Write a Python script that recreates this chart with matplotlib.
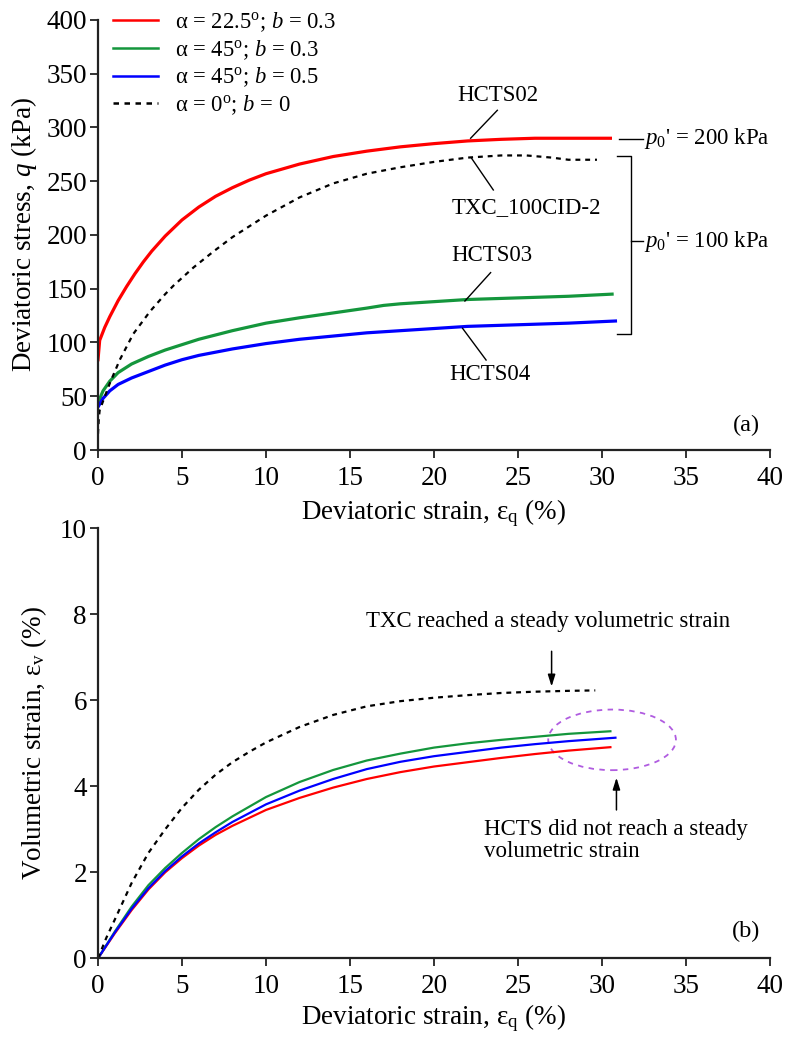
import matplotlib
matplotlib.use("Agg")
import matplotlib.pyplot as plt
from matplotlib.patches import Ellipse
import numpy as np

plt.rcParams['font.family'] = ['Liberation Serif', 'DejaVu Serif']
plt.rcParams['mathtext.fontset'] = 'custom'
plt.rcParams['mathtext.rm'] = 'Liberation Serif'
plt.rcParams['mathtext.it'] = 'Liberation Serif:italic'
plt.rcParams['mathtext.bf'] = 'Liberation Serif:bold'

# ---------------- data: panel (a) deviatoric stress q (kPa) vs strain (%) ----------------
red_q_x = [0, 0.1, 0.4, 0.7, 1.2, 1.7, 2.2, 2.7, 3.2, 4, 5, 6, 7, 8, 9, 10, 12, 14, 16, 18, 20, 22, 24, 26, 28, 30.5]
red_q_y = [84, 102, 114, 124, 139, 152, 164, 175, 185, 199, 214, 226, 236, 244, 251, 257, 266, 273, 278, 282, 285, 287.5, 289, 290, 290, 290]

green_q_x = [0, 0.3, 0.7, 1.2, 2, 3, 4, 5, 6, 7, 8, 10, 12, 14, 16, 17, 18, 20, 22, 25, 28, 30.6]
green_q_y = [44, 55, 64, 72, 80, 87, 93, 98, 103, 107, 111, 118, 123, 127.5, 132, 134.5, 136, 138, 140, 141.5, 143, 145]

blue_q_x = [0, 0.3, 0.7, 1.2, 2, 3, 4, 5, 6, 7, 8, 10, 12, 14, 16, 18, 20, 22, 25, 28, 30.8]
blue_q_y = [40, 48, 55, 61, 67, 73, 79, 84, 88, 91, 94, 99, 103, 106, 109, 111, 113, 115, 116.5, 118, 120]

txc_q_x = [0, 0.05, 0.1, 0.7, 1.3, 2.1, 3.1, 4.0, 4.5, 5.7, 6.9, 8, 10, 12, 14, 16, 18, 20, 22, 24, 25.5, 27, 28, 29.7]
txc_q_y = [15, 30, 37, 62, 84, 108, 129, 145, 153, 170, 185, 198, 218, 235, 248, 257, 263, 268, 272, 274, 274, 272, 270, 270]

# ---------------- data: panel (b) volumetric strain (%) vs strain (%) ----------------
red_v_x = [0, 1, 2, 3, 4, 5, 6, 7, 8, 10, 12, 14, 16, 18, 20, 22, 24, 26, 28, 30.5]
red_v_y = [0, 0.58, 1.12, 1.6, 2.0, 2.33, 2.62, 2.87, 3.08, 3.45, 3.73, 3.97, 4.17, 4.33, 4.46, 4.56, 4.66, 4.75, 4.83, 4.91]

green_v_x = [0, 1, 2, 3, 4, 5, 6, 7, 8, 10, 12, 14, 16, 18, 20, 22, 24, 26, 28, 30.5]
green_v_y = [0, 0.62, 1.2, 1.7, 2.1, 2.45, 2.77, 3.05, 3.3, 3.75, 4.1, 4.38, 4.6, 4.76, 4.9, 5.0, 5.08, 5.15, 5.22, 5.28]

blue_v_x = [0, 1, 2, 3, 4, 5, 6, 7, 8, 10, 12, 14, 16, 18, 20, 22, 24, 26, 28, 30.8]
blue_v_y = [0, 0.6, 1.15, 1.63, 2.03, 2.37, 2.67, 2.93, 3.17, 3.58, 3.9, 4.17, 4.4, 4.57, 4.7, 4.8, 4.9, 4.98, 5.05, 5.13]

txc_v_x = [0, 0.5, 1, 2, 3, 4, 5, 6, 7, 8, 9, 10, 12, 14, 16, 18, 20, 22, 24, 26, 28, 29.6]
txc_v_y = [0, 0.48, 0.9, 1.75, 2.45, 3.0, 3.5, 3.92, 4.27, 4.56, 4.8, 5.02, 5.38, 5.66, 5.86, 5.98, 6.06, 6.12, 6.17, 6.2, 6.22, 6.23]

legend_labels = ['α = 22.5$^{\\mathrm{o}}$; $b$ = 0.3',
                 'α = 45$^{\\mathrm{o}}$; $b$ = 0.3',
                 'α = 45$^{\\mathrm{o}}$; $b$ = 0.5',
                 'α = 0$^{\\mathrm{o}}$; $b$ = 0']

RED, GREEN, BLUE, PURPLE = '#ff0000', '#14963c', '#0000ff', '#b05ce0'
DASH = (0, (2.2, 2.2))
TICK_FS = 19.5
LABEL_FS = 19.5
ANN_FS = 16.5

fig = plt.figure(figsize=(7.88, 10.39), dpi=100)
ax1 = fig.add_axes([98/788, 1-450/1039, 672/788, 430/1039])
ax2 = fig.add_axes([98/788, 1-958.3/1039, 672/788, 430/1039])

for ax in (ax1, ax2):
    for s in ('top', 'right'):
        ax.spines[s].set_visible(False)
    for s in ('left', 'bottom'):
        ax.spines[s].set_linewidth(1.6)
        ax.spines[s].set_color('#222222')
    ax.tick_params(direction='out', length=5.5, width=1.3, colors='#222222',
                   labelsize=TICK_FS, labelcolor='black')
    ax.tick_params(axis='x', pad=6)
    ax.tick_params(axis='y', pad=2.5)
    ax.set_xlim(0, 40)
    ax.set_xticks(np.arange(0, 41, 5))

# ---------------- panel (a) ----------------
l1, = ax1.plot(red_q_x, red_q_y, color=RED, lw=2.3)
l2, = ax1.plot(green_q_x, green_q_y, color=GREEN, lw=2.3)
l3, = ax1.plot(blue_q_x, blue_q_y, color=BLUE, lw=2.3)
l4, = ax1.plot(txc_q_x, txc_q_y, color='black', lw=1.6, ls=DASH)
ax1.set_ylim(0, 400)
ax1.set_yticks(np.arange(0, 401, 50))
ax1.set_xlabel('Deviatoric strain, ε$_{\\mathrm{q}}$ (%)', fontsize=LABEL_FS)
ax1.set_ylabel('Deviatoric stress, $q$ (kPa)', fontsize=LABEL_FS)
ax1.xaxis.set_label_coords(0.5, -0.147)
ax1.xaxis.label.set_va('center')
ax1.yaxis.set_label_coords(-0.11, 0.5)
ax1.yaxis.label.set_va('center')

leg_lines = [l1, l2, l3, l4]
leg = ax1.legend(leg_lines, legend_labels, loc='upper left', bbox_to_anchor=(0.0223, 1.022),
                 frameon=False, fontsize=16.3, handlelength=2.0, handletextpad=0.72,
                 labelspacing=0.17, borderpad=0, borderaxespad=0)
for h in leg.get_lines():
    h.set_linewidth(1.8)

lc = 'black'
ax1.text(23.8, 330, 'HCTS02', fontsize=ANN_FS, ha='center', va='center')
ax1.plot([23.77, 22.18], [316, 290], color=lc, lw=1.0)
ax1.text(25.5, 226, 'TXC_100CID-2', fontsize=ANN_FS, ha='center', va='center')
ax1.plot([22.24, 23.53], [271.3, 241.9], color=lc, lw=1.0)
ax1.text(23.45, 180.5, 'HCTS03', fontsize=ANN_FS, ha='center', va='center')
ax1.plot([23.37, 21.84], [165, 138.6], color=lc, lw=1.0)
ax1.text(23.3, 69.8, 'HCTS04', fontsize=ANN_FS, ha='center', va='center')
ax1.plot([21.7, 23.1], [113.2, 83.7], color=lc, lw=1.0)

ax1.plot([31.0, 32.44], [289.5, 289.5], color=lc, lw=1.0, clip_on=False)
ax1.text(32.5, 289.5, "$p_0$' = 200 kPa", fontsize=ANN_FS, ha='left', va='center', clip_on=False)
ax1.plot([30.9, 31.7, 31.7, 30.9], [273.6, 273.6, 107.6, 107.6], color=lc, lw=1.0, clip_on=False)
ax1.plot([31.7, 32.44], [194, 194], color=lc, lw=1.0, clip_on=False)
ax1.text(32.5, 194, "$p_0$' = 100 kPa", fontsize=ANN_FS, ha='left', va='center', clip_on=False)
ax1.text(39.4, 23, '(a)', fontsize=ANN_FS + 1, ha='right', va='center')

# ---------------- panel (b) ----------------
ax2.plot(red_v_x, red_v_y, color=RED, lw=1.6)
ax2.plot(green_v_x, green_v_y, color=GREEN, lw=1.6)
ax2.plot(blue_v_x, blue_v_y, color=BLUE, lw=1.6)
ax2.plot(txc_v_x, txc_v_y, color='black', lw=1.6, ls=DASH)
ax2.set_ylim(0, 10)
ax2.set_yticks(np.arange(0, 11, 2))
ax2.set_xlabel('Deviatoric strain, ε$_{\\mathrm{q}}$ (%)', fontsize=LABEL_FS)
ax2.set_ylabel('Volumetric strain, ε$_{\\mathrm{v}}$ (%)', fontsize=LABEL_FS)
ax2.xaxis.set_label_coords(0.5, -0.14)
ax2.xaxis.label.set_va('center')
ax2.yaxis.set_label_coords(-0.095, 0.5)
ax2.yaxis.label.set_va('center')

ax2.text(26.8, 7.84, 'TXC reached a steady volumetric strain', fontsize=ANN_FS, ha='center', va='center')
ax2.annotate('', xy=(27.0, 6.32), xytext=(27.0, 7.14),
             arrowprops=dict(arrowstyle='-|>,head_length=0.7,head_width=0.22', color='black', lw=1.1,
                             shrinkA=0, shrinkB=0))
ax2.add_patch(Ellipse((30.6, 5.08), 7.6, 1.41, fill=False, ls=(0, (3, 3)), ec=PURPLE, lw=1.3))
ax2.annotate('', xy=(30.86, 4.2), xytext=(30.86, 3.45),
             arrowprops=dict(arrowstyle='-|>,head_length=0.7,head_width=0.22', color='black', lw=1.1,
                             shrinkA=0, shrinkB=0))
ax2.text(22.95, 2.74, 'HCTS did not reach a steady\nvolumetric strain', fontsize=ANN_FS,
         ha='left', va='center', linespacing=1.05)
ax2.text(39.4, 0.62, '(b)', fontsize=ANN_FS + 1, ha='right', va='center')

fig.savefig('out.png', dpi=100)
